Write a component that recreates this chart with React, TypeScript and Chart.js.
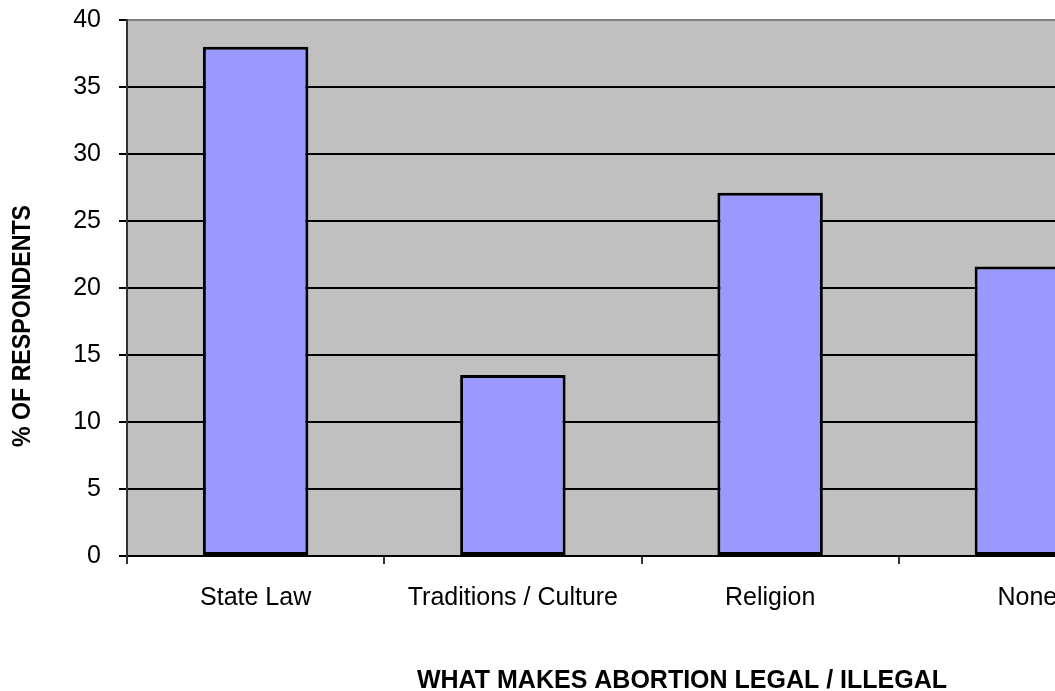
import React, { useEffect, useRef } from "react";
import { Chart, registerables } from "chart.js";

Chart.register(...registerables);

const categories = ["State Law", "Traditions / Culture", "Religion", "None"];
const values = [38, 13.5, 27.1, 21.6];
const yTitle = "% OF RESPONDENTS";
const xTitle = "WHAT MAKES ABORTION LEGAL / ILLEGAL";

const FONT = "'Liberation Sans', Arial, sans-serif";

const bgPlugin = {
  id: "plotBg",
  beforeDraw(chart: any) {
    const { ctx, chartArea } = chart;
    ctx.save();
    ctx.fillStyle = "#C0C0C0";
    ctx.fillRect(chartArea.left, chartArea.top, chartArea.right - chartArea.left, chartArea.bottom - chartArea.top);
    ctx.restore();
  },
};

const titlePlugin = {
  id: "axisTitles",
  afterDraw(chart: any) {
    const { ctx } = chart;
    ctx.save();
    ctx.fillStyle = "#000";
    ctx.font = `bold 25px ${FONT}`;
    ctx.textAlign = "center";
    ctx.textBaseline = "alphabetic";
    ctx.fillText(xTitle, 682, 688);
    ctx.translate(23, 326);
    ctx.rotate(-Math.PI / 2);
    ctx.textBaseline = "middle";
    ctx.font = `bold 26px ${FONT}`;
    ctx.fillText(yTitle, 0, 0, 242);
    ctx.restore();
  },
};

export default function App() {
  const ref = useRef<HTMLCanvasElement | null>(null);
  useEffect(() => {
    if (!ref.current) return;
    const chart = new Chart(ref.current, {
      type: "bar",
      data: {
        labels: categories,
        datasets: [
          {
            data: values,
            backgroundColor: "#9999FF",
            borderColor: "#000000",
            borderWidth: 3,
            borderSkipped: false,
            categoryPercentage: 1,
            barPercentage: 0.41,
          },
        ],
      },
      options: {
        animation: false,
        responsive: false,
        devicePixelRatio: 1,
        layout: { padding: { top: 20, right: 14, left: 0, bottom: 0 } },
        plugins: { legend: { display: false }, tooltip: { enabled: false } },
        scales: {
          x: {
            afterFit(scale: any) {
              scale.height = 135;
              scale.paddingLeft = 0;
              scale.paddingRight = 0;
            },
            grid: {
              drawOnChartArea: false,
              drawTicks: true,
              tickLength: 8,
              tickColor: "#333",
              lineWidth: 2,
              offset: true,
            },
            border: { color: "#000", width: 2 },
            ticks: {
              color: "#000",
              font: { family: FONT, size: 25 },
              padding: 19,
              maxRotation: 0,
              autoSkip: false,
            },
          },
          y: {
            min: 0,
            max: 40,
            afterFit(scale: any) {
              scale.width = 127;
              scale.paddingTop = 0;
              scale.paddingBottom = 0;
            },
            grid: {
              color: (c: any) => (c.tick && c.tick.value === 40 ? "#808080" : "#000"),
              lineWidth: 2,
              tickLength: 8,
              tickColor: "#000",
            },
            border: { color: "#333", width: 2 },
            ticks: {
              stepSize: 5,
              color: "#000",
              font: { family: FONT, size: 25 },
              padding: 18,
            },
          },
        },
      },
      plugins: [bgPlugin, titlePlugin],
    });
    return () => chart.destroy();
  }, []);
  return (
    <div style={{ position: "fixed", left: 0, top: 0, width: 1055, height: 691, overflow: "hidden", background: "#fff" }}>
      <canvas ref={ref} width={1170} height={691} style={{ width: 1170, height: 691, display: "block" }} />
    </div>
  );
}
